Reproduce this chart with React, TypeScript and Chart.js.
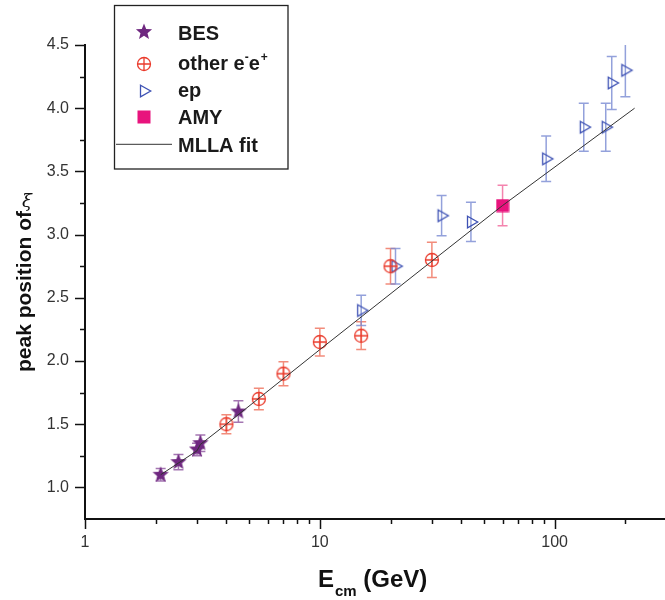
import React, { useEffect, useRef } from 'react';
import { Chart, registerables } from 'chart.js';

Chart.register(...registerables);

// ---- data ----
const besE = [2.1, 2.5, 3.0, 3.1, 4.5];
const besXi = [1.1, 1.2, 1.3, 1.35, 1.6];
const besErr = [0.05, 0.06, 0.05, 0.065, 0.085];

const otherE = [4, 5.5, 7, 10, 15, 20, 30];
const otherXi = [1.5, 1.7, 1.9, 2.15, 2.2, 2.75, 2.8];
const otherErr = [0.075, 0.085, 0.095, 0.11, 0.11, 0.14, 0.14];

const epE = [15, 21, 33, 44, 92, 133, 165, 175, 200];
const epXi = [2.4, 2.75, 3.15, 3.1, 3.6, 3.85, 3.85, 4.2, 4.3];
const epErr = [0.12, 0.14, 0.16, 0.155, 0.18, 0.19, 0.19, 0.21, 0.21];

const amyE = [60];
const amyXi = [3.23];
const amyErr = [0.16];

const fitE = [2.1, 3.0, 3.1, 4, 10, 30, 60, 219];
const fitXi = [1.1, 1.29, 1.34, 1.5, 2.09, 2.79, 3.23, 4.0];

const xMajorLabels = [1, 10, 100];
const xRange = [1, 295];
const yRange = [0.75, 4.5];
const yStep = 0.25;

const FONT = "'Liberation Sans', Arial, Helvetica, sans-serif";

function mk(w: number, h: number, draw: (g: CanvasRenderingContext2D, cx: number, cy: number) => void) {
  const c = document.createElement('canvas');
  c.width = w;
  c.height = h;
  const g = c.getContext('2d') as CanvasRenderingContext2D;
  draw(g, w / 2, h / 2);
  return c;
}

function makeMarkers() {
  const star = mk(20, 20, (g, cx, cy) => {
    g.beginPath();
    for (let i = 0; i < 10; i++) {
      const r = i % 2 === 0 ? 8.5 : 3.7;
      const a = -Math.PI / 2 + (i * Math.PI) / 5;
      g.lineTo(cx + r * Math.cos(a), cy + r * Math.sin(a));
    }
    g.closePath();
    g.fillStyle = '#6f2880';
    g.fill();
  });
  const circ = mk(18, 18, (g, cx, cy) => {
    g.strokeStyle = '#ea3b2c';
    g.lineWidth = 1.3;
    g.beginPath();
    g.arc(cx, cy, 6.5, 0, Math.PI * 2);
    g.stroke();
    g.beginPath();
    g.moveTo(cx - 6.5, cy);
    g.lineTo(cx + 6.5, cy);
    g.moveTo(cx, cy - 6.5);
    g.lineTo(cx, cy + 6.5);
    g.stroke();
  });
  const tri = mk(18, 18, (g, cx, cy) => {
    g.strokeStyle = '#3e52b4';
    g.lineWidth = 1.3;
    g.beginPath();
    g.moveTo(cx - 3.5, cy - 5.8);
    g.lineTo(cx + 6.7, cy);
    g.lineTo(cx - 3.5, cy + 5.8);
    g.closePath();
    g.stroke();
  });
  const sq = mk(14, 14, (g) => {
    g.fillStyle = '#e8137d';
    g.fillRect(0.5, 0.5, 13, 13);
  });
  return { star, circ, tri, sq };
}

const pts = (xs: number[], ys: number[]) => xs.map((x, i) => ({ x, y: ys[i] }));

export default function App() {
  const ref = useRef<HTMLCanvasElement | null>(null);

  useEffect(() => {
    const canvas = ref.current;
    if (!canvas) return;
    const m = makeMarkers();

    const errPlugin = {
      id: 'errbars',
      beforeDatasetsDraw(chart: any) {
        const { ctx, chartArea } = chart;
        const xs = chart.scales.x;
        const ys = chart.scales.y;
        ctx.save();
        ctx.beginPath();
        ctx.rect(chartArea.left, chartArea.top, chartArea.right - chartArea.left, chartArea.bottom - chartArea.top);
        ctx.clip();
        chart.data.datasets.forEach((ds: any) => {
          if (!ds.errors) return;
          ctx.strokeStyle = ds.errColor;
          ctx.lineWidth = 1.5;
          ds.data.forEach((p: any, i: number) => {
            const px = xs.getPixelForValue(p.x);
            const y1 = ys.getPixelForValue(p.y + ds.errors[i]);
            const y2 = ys.getPixelForValue(p.y - ds.errors[i]);
            ctx.beginPath();
            ctx.moveTo(px, y1);
            ctx.lineTo(px, y2);
            ctx.moveTo(px - 5, y1);
            ctx.lineTo(px + 5, y1);
            ctx.moveTo(px - 5, y2);
            ctx.lineTo(px + 5, y2);
            ctx.stroke();
          });
        });
        ctx.restore();
      },
    };

    const decoPlugin = {
      id: 'deco',
      afterDraw(chart: any) {
        const { ctx, chartArea } = chart;
        const xs = chart.scales.x;
        const ys = chart.scales.y;
        ctx.save();
        // tick marks
        ctx.strokeStyle = '#111';
        ctx.lineWidth = 1.5;
        xs.ticks.forEach((t: any) => {
          const v = t.value;
          if (v < xs.min - 1e-9 || v > xs.max + 1e-9) return;
          const p = Math.floor(Math.log10(v) + 1e-9);
          const mant = v / Math.pow(10, p);
          if (Math.abs(mant - Math.round(mant)) > 1e-6) return;
          const len = Math.round(mant) === 1 ? 10 : 5;
          const px = Math.round(xs.getPixelForValue(v)) + 0.5;
          ctx.beginPath();
          ctx.moveTo(px, chartArea.bottom);
          ctx.lineTo(px, chartArea.bottom + len);
          ctx.stroke();
        });
        ys.ticks.forEach((t: any) => {
          const v = t.value;
          if (v <= ys.min + 1e-9) return;
          const major = Math.abs(v * 2 - Math.round(v * 2)) < 1e-6;
          const len = major ? 10 : 5;
          const py = Math.round(ys.getPixelForValue(v)) + 0.5;
          ctx.beginPath();
          ctx.moveTo(chartArea.left - len, py);
          ctx.lineTo(chartArea.left, py);
          ctx.stroke();
        });

        // x title
        ctx.fillStyle = '#111';
        ctx.textBaseline = 'alphabetic';
        ctx.textAlign = 'left';
        ctx.font = `bold 24px ${FONT}`;
        let x0 = 318;
        ctx.fillText('E', x0, 587);
        x0 += ctx.measureText('E').width + 1;
        ctx.font = `bold 15px ${FONT}`;
        ctx.fillText('cm', x0, 596);
        x0 += ctx.measureText('cm').width;
        ctx.font = `bold 24px ${FONT}`;
        ctx.fillText(' (GeV)', x0, 587);

        // y title
        ctx.save();
        ctx.translate(31, 372);
        ctx.rotate(-Math.PI / 2);
        ctx.font = `bold 21px ${FONT}`;
        const t1 = 'peak position of';
        ctx.fillText(t1, 0, 0);
        const w1 = ctx.measureText(t1).width;
        ctx.restore();
        ctx.font = "italic 18px 'DejaVu Serif', 'Liberation Serif', serif";
        ctx.textAlign = 'center';
        ctx.fillText('ξ', 27, 372 - w1 - 4);
        ctx.textAlign = 'left';

        // legend
        ctx.fillStyle = '#fff';
        ctx.fillRect(114.5, 5.5, 173.5, 163.5);
        ctx.strokeStyle = '#222';
        ctx.lineWidth = 1.3;
        ctx.strokeRect(114.5, 5.5, 173.5, 163.5);
        const sx = 144;
        const tx = 178;
        const dsets = chart.data.datasets;
        const rows = [
          { ds: dsets[1], cy: 32.3, base: 39.5 },
          { ds: dsets[2], cy: 64.3, base: 70 },
          { ds: dsets[3], cy: 90.7, base: 97.3 },
          { ds: dsets[4], cy: 117.3, base: 124.3 },
          { ds: dsets[0], cy: 144.3, base: 151.7 },
        ];
        ctx.fillStyle = '#1a1a1a';
        rows.forEach((r) => {
          const ds = r.ds;
          if (ds.pointStyle && typeof ds.pointStyle !== 'string') {
            const img = ds.pointStyle as HTMLCanvasElement;
            ctx.drawImage(img, Math.round(sx - img.width / 2), Math.round(r.cy - img.height / 2));
          } else {
            ctx.strokeStyle = ds.borderColor;
            ctx.lineWidth = 1;
            ctx.beginPath();
            ctx.moveTo(116, r.cy);
            ctx.lineTo(172, r.cy);
            ctx.stroke();
          }
          ctx.font = `bold 20px ${FONT}`;
          if (ds.legendParts) {
            let x = tx;
            ds.legendParts.forEach((pp: any) => {
              ctx.font = pp.sup ? `bold 12px ${FONT}` : `bold 20px ${FONT}`;
              ctx.fillText(pp.t, x + (pp.dx || 0), r.base - (pp.sup ? 9 : 0));
              x += ctx.measureText(pp.t).width + (pp.dx || 0) + (pp.adv || 0);
            });
          } else {
            ctx.fillText(ds.label, tx, r.base);
          }
        });
        ctx.restore();
      },
    };

    const marker = (style: any) => ({
      pointStyle: style,
      pointRadius: 1,
      pointHoverRadius: 0,
      pointBorderWidth: 0,
      order: 1,
    });

    const chart = new Chart(canvas, {
      type: 'scatter',
      data: {
        datasets: [
          {
            label: 'MLLA fit',
            data: pts(fitE, fitXi),
            showLine: true,
            pointRadius: 0,
            pointHoverRadius: 0,
            borderColor: '#333333',
            borderWidth: 1,
            tension: 0,
            order: 0,
          },
          {
            label: 'BES',
            data: pts(besE, besXi),
            ...marker(m.star),
            errors: besErr,
            errColor: 'rgba(125,60,145,0.7)',
          },
          {
            label: 'other e-e+',
            legendParts: [
              { t: 'other e' },
              { t: '-', sup: true, dx: 0, adv: 0 },
              { t: 'e' },
              { t: '+', sup: true, dx: 1 },
            ],
            data: pts(otherE, otherXi),
            ...marker(m.circ),
            errors: otherErr,
            errColor: 'rgba(240,120,100,0.85)',
          },
          {
            label: 'ep',
            data: pts(epE, epXi),
            ...marker(m.tri),
            errors: epErr,
            errColor: 'rgba(120,138,210,0.8)',
          },
          {
            label: 'AMY',
            data: pts(amyE, amyXi),
            ...marker(m.sq),
            errors: amyErr,
            errColor: 'rgba(242,110,160,0.85)',
          },
        ] as any,
      },
      options: {
        responsive: false,
        devicePixelRatio: 1,
        animation: false,
        events: [],
        layout: { autoPadding: false, padding: { top: 45, left: 0, right: 0, bottom: 0 } },
        plugins: { legend: { display: false }, tooltip: { enabled: false } },
        scales: {
          x: {
            type: 'logarithmic',
            position: 'bottom',
            min: xRange[0],
            max: xRange[1],
            grid: { display: true, drawOnChartArea: false, drawTicks: true, tickLength: 10, color: 'rgba(0,0,0,0)' },
            border: { display: true, color: '#111', width: 2 },
            ticks: {
              autoSkip: false,
              maxRotation: 0,
              minRotation: 0,
              padding: 4,
              color: '#333',
              font: { family: FONT, size: 16 },
              callback: (v: any) => {
                const n = Number(v);
                return xMajorLabels.some((q) => Math.abs(q - n) < 1e-9) ? String(n) : '';
              },
            },
            afterFit: (s: any) => {
              s.height = 81;
              s.paddingRight = 0;
              s.paddingLeft = 0;
            },
          },
          y: {
            type: 'linear',
            position: 'left',
            min: yRange[0],
            max: yRange[1],
            grid: { display: true, drawOnChartArea: false, drawTicks: true, tickLength: 10, color: 'rgba(0,0,0,0)' },
            border: { display: true, color: '#111', width: 2 },
            ticks: {
              stepSize: yStep,
              autoSkip: false,
              padding: 6,
              color: '#333',
              font: { family: FONT, size: 16 },
              callback: (v: any) => {
                const n = Number(v);
                if (n <= yRange[0] + 1e-9) return '';
                return Math.abs(n * 2 - Math.round(n * 2)) < 1e-6 ? n.toFixed(1) : '';
              },
            },
            afterFit: (s: any) => {
              s.width = 85;
            },
          },
        },
      } as any,
      plugins: [errPlugin, decoPlugin],
    });

    return () => {
      chart.destroy();
    };
  }, []);

  return (
    <div style={{ position: 'fixed', left: 0, top: 0, width: 665, height: 600, background: '#fff' }}>
      <canvas ref={ref} width={665} height={600} style={{ display: 'block', width: 665, height: 600 }} />
    </div>
  );
}
